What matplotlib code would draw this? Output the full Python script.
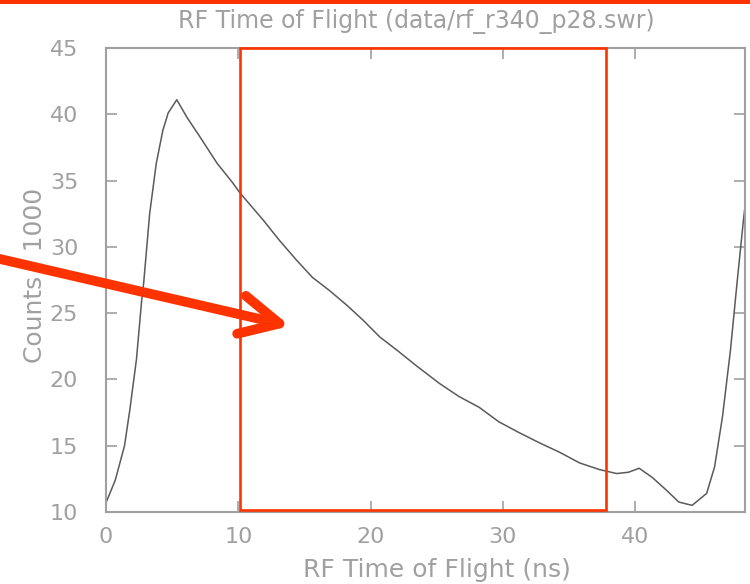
import matplotlib
matplotlib.use('Agg')
import matplotlib.pyplot as plt
from matplotlib.patches import Rectangle, FancyArrowPatch, ArrowStyle

# time of flight (ns) and counts / 1000
tof = [0.0, 0.7, 1.4, 1.8, 2.3, 2.7, 2.85, 3.3, 3.8, 4.3, 4.7, 5.35,
       6.1, 7.1, 8.4, 9.6, 10.1, 11.9, 13.1, 14.4, 15.6, 16.9, 18.2,
       19.4, 20.7, 22.0, 23.5, 25.2, 26.7, 28.2, 29.7, 31.2, 32.8, 34.3,
       35.8, 37.3, 38.6, 39.5, 40.3, 41.3, 42.3, 43.3, 44.3, 45.4, 46.0,
       46.6, 47.2, 47.7, 48.2, 48.6]
counts = [10.7, 12.4, 15.0, 17.7, 21.5, 26.0, 27.3, 32.5, 36.3, 38.8, 40.1, 41.1,
          39.8, 38.3, 36.3, 34.8, 34.1, 32.0, 30.5, 29.0, 27.7, 26.7, 25.6,
          24.5, 23.2, 22.2, 21.0, 19.7, 18.7, 17.9, 16.8, 16.0, 15.2, 14.5,
          13.7, 13.2, 12.9, 13.0, 13.3, 12.6, 11.7, 10.75, 10.5, 11.4, 13.4,
          17.2, 22.2, 27.3, 32.2, 35.5]

xticks = [0, 10, 20, 30, 40]
yticks = [10, 15, 20, 25, 30, 35, 40, 45]

# highlighted window (ns)
win_lo, win_hi = 10.1, 37.8

grey = '#a0a0a0'
red = '#ff3300'

fig = plt.figure(figsize=(7.5, 5.84), dpi=100)
ax = fig.add_axes([106 / 750, 1 - 512 / 584, 639 / 750, 464 / 584])

ax.plot(tof, counts, color='#5a5a5a', lw=1.1)
ax.set_xlim(0, 48.3)
ax.set_ylim(10, 45)
ax.set_xticks(xticks)
ax.set_yticks(yticks)
ax.tick_params(direction='in', length=8, width=1.2, color=grey,
               labelcolor=grey, labelsize=16, top=True, right=True)
ax.tick_params(axis='x', pad=11)
ax.tick_params(axis='y', pad=20)
for s in ax.spines.values():
    s.set_color(grey)
    s.set_linewidth(1.5)

ax.set_xlabel('RF Time of Flight (ns)', color=grey, fontsize=18, va='center')
ax.xaxis.set_label_coords(331 / 639, -58 / 464)
ax.set_ylabel('Counts / 1000', color=grey, fontsize=18, va='center')
ax.yaxis.set_label_coords(-71 / 639, 0.51)
fig.text(0.555, 1 - 21 / 584, 'RF Time of Flight (data/rf_r340_p28.swr)',
         color=grey, fontsize=17, ha='center', va='center')

# red window and arrow
ax.add_patch(Rectangle((win_lo, 10.15), win_hi - win_lo, 45 - 10.15,
                       fill=False, ec=red, lw=1.9, clip_on=False, zorder=5))
fig.add_artist(Rectangle((0, 1 - 4 / 584), 1, 4 / 584, transform=fig.transFigure,
                         color=red, lw=0))
arrow = FancyArrowPatch((0, 1 - 259 / 584), (290 / 750, 1 - 326 / 584),
                        transform=fig.transFigure,
                        arrowstyle=ArrowStyle('->', head_length=28, head_width=14),
                        mutation_scale=1, color=red, lw=7,
                        capstyle='round', joinstyle='round',
                        shrinkA=0, shrinkB=0)
fig.add_artist(arrow)

fig.savefig('out.png', dpi=100)
